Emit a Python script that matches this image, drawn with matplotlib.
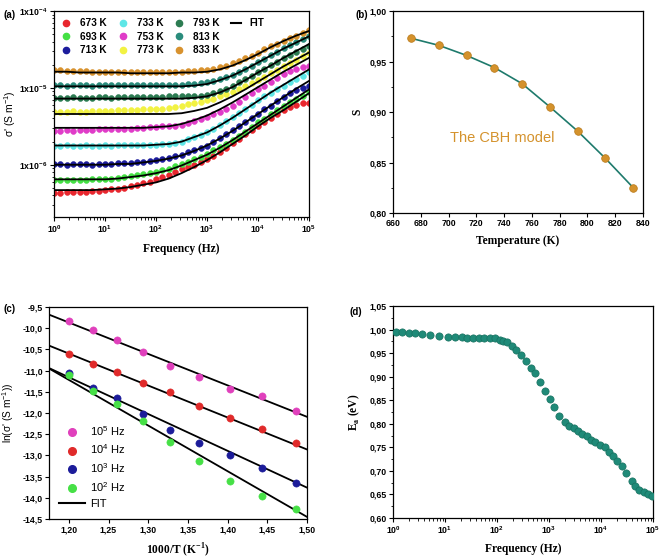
import matplotlib
matplotlib.use('Agg')
import matplotlib.pyplot as plt
import numpy as np
from matplotlib.lines import Line2D
from matplotlib.ticker import FuncFormatter, AutoMinorLocator, FixedLocator, LogLocator, NullFormatter

plt.rcParams['font.family'] = ['Liberation Sans', 'DejaVu Sans']
plt.rcParams['font.weight'] = 'bold'

# ---------------- (a) sigma' vs frequency ----------------
temps = [673, 693, 713, 733, 753, 773, 793, 813, 833]
temp_colors = ['#e8262e', '#44e044', '#1c1c9c', '#5ee6e6', '#e03cc8',
               '#f2f242', '#2c7c52', '#2a8c7c', '#d8922e']

# measurement frequencies, 8 per decade, log10(Hz)
logf_pts = [k / 8 for k in range(41)]
# fit curve frequencies, 4 per decade, log10(Hz)
logf_fit = [k / 4 for k in range(21)]

# log10(sigma') markers
sig_pts = {
    673: [-6.37, -6.37, -6.36, -6.36, -6.35, -6.35, -6.34, -6.34,
          -6.33, -6.32, -6.31, -6.30, -6.28, -6.26, -6.24, -6.22,
          -6.19, -6.16, -6.13, -6.10, -6.06, -6.03, -6.00, -5.97,
          -5.93, -5.88, -5.83, -5.78, -5.72, -5.66, -5.60, -5.55,
          -5.49, -5.44, -5.39, -5.34, -5.29, -5.25, -5.22, -5.20, -5.20],
    693: [-6.20, -6.20, -6.20, -6.20, -6.20, -6.20, -6.19, -6.19,
          -6.19, -6.18, -6.17, -6.16, -6.15, -6.14, -6.12, -6.11,
          -6.09, -6.07, -6.05, -6.02, -5.99, -5.96, -5.93, -5.90,
          -5.86, -5.81, -5.77, -5.73, -5.68, -5.62, -5.57, -5.51,
          -5.45, -5.40, -5.34, -5.29, -5.23, -5.18, -5.14, -5.10, -5.06],
    713: [-5.99, -5.99, -6.00, -5.99, -5.99, -5.99, -6.00, -5.99,
          -5.99, -5.99, -5.98, -5.98, -5.98, -5.97, -5.96, -5.95,
          -5.94, -5.93, -5.91, -5.89, -5.87, -5.84, -5.81, -5.78,
          -5.75, -5.70, -5.65, -5.60, -5.55, -5.50, -5.44, -5.39,
          -5.34, -5.28, -5.23, -5.17, -5.12, -5.07, -5.03, -5.00, -4.97],
    733: [-5.75, -5.75, -5.74, -5.75, -5.75, -5.74, -5.75, -5.75,
          -5.74, -5.75, -5.74, -5.74, -5.74, -5.74, -5.74, -5.74,
          -5.74, -5.73, -5.73, -5.72, -5.70, -5.67, -5.64, -5.61,
          -5.58, -5.53, -5.48, -5.43, -5.38, -5.33, -5.27, -5.22,
          -5.16, -5.11, -5.07, -5.02, -4.97, -4.92, -4.88, -4.84, -4.80],
    753: [-5.56, -5.56, -5.55, -5.56, -5.55, -5.55, -5.55, -5.54,
          -5.54, -5.54, -5.53, -5.53, -5.53, -5.52, -5.52, -5.51,
          -5.51, -5.50, -5.50, -5.49, -5.48, -5.46, -5.43, -5.41,
          -5.38, -5.34, -5.31, -5.27, -5.23, -5.18, -5.12, -5.07,
          -5.02, -4.97, -4.92, -4.87, -4.82, -4.78, -4.75, -4.73, -4.71],
    773: [-5.31, -5.31, -5.31, -5.30, -5.31, -5.31, -5.30, -5.30,
          -5.30, -5.30, -5.29, -5.29, -5.29, -5.29, -5.28, -5.28,
          -5.28, -5.27, -5.26, -5.25, -5.23, -5.21, -5.20, -5.18,
          -5.16, -5.14, -5.11, -5.08, -5.05, -5.01, -4.98, -4.94,
          -4.90, -4.86, -4.81, -4.77, -4.72, -4.68, -4.64, -4.59, -4.55],
    793: [-5.13, -5.13, -5.13, -5.12, -5.13, -5.13, -5.13, -5.12,
          -5.12, -5.13, -5.12, -5.12, -5.12, -5.12, -5.12, -5.12,
          -5.12, -5.12, -5.11, -5.11, -5.11, -5.11, -5.10, -5.10,
          -5.09, -5.07, -5.04, -5.01, -4.97, -4.93, -4.88, -4.84,
          -4.79, -4.75, -4.70, -4.66, -4.61, -4.57, -4.53, -4.49, -4.45],
    813: [-4.96, -4.96, -4.97, -4.96, -4.96, -4.96, -4.97, -4.96,
          -4.96, -4.96, -4.96, -4.96, -4.96, -4.96, -4.96, -4.96,
          -4.96, -4.96, -4.96, -4.96, -4.96, -4.95, -4.95, -4.94,
          -4.93, -4.91, -4.89, -4.86, -4.83, -4.79, -4.75, -4.71,
          -4.66, -4.62, -4.57, -4.53, -4.48, -4.44, -4.40, -4.36, -4.32],
    833: [-4.77, -4.77, -4.78, -4.78, -4.78, -4.78, -4.79, -4.79,
          -4.79, -4.79, -4.79, -4.79, -4.79, -4.79, -4.79, -4.79,
          -4.79, -4.79, -4.79, -4.79, -4.79, -4.78, -4.78, -4.77,
          -4.77, -4.75, -4.73, -4.71, -4.68, -4.65, -4.61, -4.58,
          -4.54, -4.50, -4.46, -4.43, -4.39, -4.35, -4.32, -4.28, -4.25],
}

# log10(sigma') of the FIT curves
sig_fit = {
    673: [-6.33, -6.33, -6.33, -6.33, -6.32, -6.31, -6.29, -6.26, -6.23, -6.18, -6.11,
          -6.03, -5.94, -5.84, -5.73, -5.62, -5.50, -5.39, -5.29, -5.18, -5.07],
    693: [-6.19, -6.19, -6.19, -6.19, -6.19, -6.18, -6.16, -6.14, -6.11, -6.07, -6.01,
          -5.94, -5.87, -5.78, -5.68, -5.57, -5.46, -5.35, -5.24, -5.13, -5.02],
    713: [-6.00, -6.00, -6.00, -6.00, -6.00, -5.99, -5.99, -5.97, -5.95, -5.92, -5.88,
          -5.82, -5.75, -5.66, -5.56, -5.45, -5.34, -5.23, -5.12, -5.01, -4.91],
    733: [-5.75, -5.75, -5.75, -5.75, -5.75, -5.75, -5.75, -5.75, -5.74, -5.73, -5.70,
          -5.64, -5.58, -5.49, -5.39, -5.28, -5.17, -5.06, -4.96, -4.86, -4.76],
    753: [-5.52, -5.52, -5.52, -5.52, -5.52, -5.52, -5.52, -5.52, -5.51, -5.50, -5.47,
          -5.42, -5.36, -5.28, -5.19, -5.09, -4.99, -4.89, -4.79, -4.70, -4.61],
    773: [-5.34, -5.34, -5.34, -5.34, -5.34, -5.34, -5.34, -5.34, -5.34, -5.34, -5.33,
          -5.30, -5.26, -5.19, -5.11, -5.02, -4.92, -4.82, -4.72, -4.63, -4.54],
    793: [-5.14, -5.14, -5.14, -5.14, -5.14, -5.14, -5.14, -5.14, -5.14, -5.14, -5.14,
          -5.13, -5.11, -5.06, -4.99, -4.90, -4.80, -4.71, -4.61, -4.52, -4.43],
    813: [-4.98, -4.98, -4.98, -4.98, -4.98, -4.98, -4.98, -4.98, -4.98, -4.98, -4.98,
          -4.97, -4.95, -4.90, -4.84, -4.76, -4.67, -4.58, -4.49, -4.41, -4.33],
    833: [-4.79, -4.79, -4.80, -4.80, -4.80, -4.80, -4.81, -4.81, -4.81, -4.81, -4.80,
          -4.80, -4.79, -4.76, -4.71, -4.64, -4.56, -4.47, -4.39, -4.32, -4.26],
}

# ---------------- (b) exponent s vs T ----------------
s_values = [0.973, 0.966, 0.956, 0.944, 0.928, 0.905, 0.881, 0.854, 0.825]

# ---------------- (c) ln(sigma') vs 1000/T ----------------
freq_labels = ['10$^{\\mathregular{5}}$ Hz', '10$^{\\mathregular{4}}$ Hz',
               '10$^{\\mathregular{3}}$ Hz', '10$^{\\mathregular{2}}$ Hz']
freq_colors = ['#e040bc', '#e02a2a', '#1c1c9a', '#46e046']
# values ordered by temperature 833 K -> 673 K (increasing 1000/T)
ln_sig = [
    [-9.84, -10.05, -10.29, -10.55, -10.89, -11.16, -11.44, -11.60, -11.95],
    [-10.62, -10.84, -11.04, -11.29, -11.51, -11.83, -12.12, -12.37, -12.70],
    [-11.05, -11.40, -11.65, -12.02, -12.40, -12.71, -13.00, -13.29, -13.64],
    [-11.10, -11.47, -11.79, -12.18, -12.68, -13.14, -13.61, -13.95, -14.26],
]
fit_x = [1.175, 1.50]
fit_lines = [[-9.68, -12.09], [-10.41, -12.86], [-10.94, -13.76], [-10.95, -14.45]]

# ---------------- (d) activation energy vs frequency ----------------
logf_ea = [0.05, 0.17, 0.30, 0.42, 0.56, 0.71, 0.88, 1.05, 1.20, 1.33, 1.43, 1.54,
           1.65, 1.75, 1.86, 1.96, 2.06, 2.11, 2.20, 2.29, 2.36, 2.46, 2.56, 2.66,
           2.74, 2.83, 2.92, 3.01, 3.10, 3.20, 3.30, 3.39, 3.48, 3.56, 3.64, 3.73,
           3.81, 3.89, 3.98, 4.07, 4.15, 4.24, 4.31, 4.40, 4.49, 4.59, 4.66, 4.74,
           4.83, 4.91, 4.98]
ea_values = [0.994, 0.994, 0.993, 0.993, 0.991, 0.988, 0.986, 0.985, 0.985, 0.985,
             0.983, 0.983, 0.983, 0.983, 0.982, 0.982, 0.978, 0.976, 0.973, 0.965,
             0.957, 0.945, 0.933, 0.919, 0.907, 0.889, 0.870, 0.853, 0.836, 0.817,
             0.804, 0.796, 0.792, 0.785, 0.778, 0.773, 0.766, 0.761, 0.754, 0.750,
             0.741, 0.732, 0.722, 0.711, 0.695, 0.678, 0.667, 0.659, 0.655, 0.652,
             0.647]

W, H = 661, 559
fig = plt.figure(figsize=(W / 100, H / 100), dpi=100)


def px_axes(l, t, r, b):
    return fig.add_axes([l / W, 1 - b / H, (r - l) / W, (b - t) / H])


def comma(fmt):
    return FuncFormatter(lambda v, p: format(v, fmt).replace('.', ','))


serif = ['Liberation Serif', 'DejaVu Serif']
tick_fs = 6.3
lab_fs = 8.3


def style(ax):
    ax.tick_params(which='both', direction='out', labelsize=tick_fs, top=False, right=False, pad=1.5)
    ax.tick_params(which='major', length=3, width=0.8)
    ax.tick_params(which='minor', length=1.8, width=0.6)
    for s in ax.spines.values():
        s.set_linewidth(0.9)


# ---- (a)
ax1 = px_axes(54, 11, 309, 217)
handles = []
for t, c in zip(temps, temp_colors):
    ax1.plot(10 ** np.array(logf_pts), 10 ** np.array(sig_pts[t]), 'o', ms=4.2,
             mfc=c, mec=c, mew=0.4, zorder=2)
    handles.append(Line2D([], [], marker='o', ls='none', ms=4.5, mfc=c, mec=c, label=f'{t} K'))
for t in temps:
    ax1.plot(10 ** np.array(logf_fit), 10 ** np.array(sig_fit[t]), '-', color='black',
             lw=1.3, zorder=3)
handles.append(Line2D([], [], color='black', lw=1.5, label='FIT'))
handles += [Line2D([], [], ls='none', label=' '), Line2D([], [], ls='none', label=' ')]
ax1.set_xscale('log')
ax1.set_yscale('log')
ax1.set_xlim(1, 1e5)
ax1.set_ylim(10 ** -6.68, 1e-4)
ax1.yaxis.set_major_locator(FixedLocator([1e-6, 1e-5, 1e-4]))
ax1.yaxis.set_major_formatter(FuncFormatter(
    lambda v, p: '1x10$^{\\mathregular{%d}}$' % round(np.log10(v))))
ax1.yaxis.set_minor_locator(LogLocator(base=10, subs=np.arange(2, 10)))
ax1.yaxis.set_minor_formatter(NullFormatter())
style(ax1)
ax1.set_xlabel('Frequency (Hz)', family=serif, fontsize=lab_fs, fontweight='bold')
ax1.set_ylabel("σ' (S m$^{\\mathregular{-1}}$)", fontsize=7.5)
ax1.xaxis.set_label_coords(0.5, -0.126)
ax1.yaxis.set_label_coords(-0.141, 0.5)
ax1.legend(handles=handles, ncol=4, loc='upper left', frameon=False, fontsize=7.2,
           handlelength=1.0, handletextpad=0.9, columnspacing=1.1, labelspacing=0.35,
           borderaxespad=0.3, bbox_to_anchor=(0.0, 1.0))

# ---- (b)
ax2 = px_axes(393, 11, 643, 213)
ax2.plot(temps, s_values, '-', color='#1e7a6c', lw=1.2, zorder=2)
ax2.plot(temps, s_values, 'o', ms=5.5, mfc='#d4922c', mec='#b87818', mew=0.5, zorder=3)
ax2.set_xlim(660, 840)
ax2.set_ylim(0.80, 1.00)
ax2.set_xticks(np.arange(660, 841, 20))
ax2.set_yticks([0.80, 0.85, 0.90, 0.95, 1.00])
ax2.yaxis.set_major_formatter(comma('.2f'))
ax2.yaxis.set_minor_locator(AutoMinorLocator(2))
style(ax2)
ax2.set_xlabel('Temperature (K)', family=serif, fontsize=lab_fs, fontweight='bold')
ax2.set_ylabel('S', family=serif, fontsize=lab_fs, fontweight='bold')
ax2.xaxis.set_label_coords(0.5, -0.109)
ax2.yaxis.set_label_coords(-0.12, 0.5)
ax2.text(701, 0.874, 'The CBH model', color='#d4922c', fontsize=10.5,
         fontweight='normal', va='center', ha='left')

# ---- (c)
ax3 = px_axes(49, 307, 307, 519)
inv_T = [1000 / t for t in temps[::-1]]
for lab, c, ys, fy in zip(freq_labels, freq_colors, ln_sig, fit_lines):
    ax3.plot(fit_x, fy, '-', color='black', lw=1.3, zorder=2)
    ax3.plot(inv_T, ys, 'o', ms=5.2, mfc=c, mec=c, mew=0.4, zorder=3, label=lab)
leg_h = [Line2D([], [], marker='o', ls='none', ms=5.5, mfc=c, mec=c, label=l)
         for l, c in zip(freq_labels, freq_colors)]
leg_h.append(Line2D([], [], color='black', lw=1.5, label='FIT'))
ax3.legend(handles=leg_h, loc='lower left', frameon=False, prop={'size': 8, 'weight': 'normal'},
           handlelength=2.3, handletextpad=0.5, labelspacing=0.45, borderaxespad=0.5)
ax3.set_xlim(1.175, 1.50)
ax3.set_ylim(-14.5, -9.5)
ax3.set_xticks([1.20, 1.25, 1.30, 1.35, 1.40, 1.45, 1.50])
ax3.set_yticks(np.arange(-14.5, -9.49, 0.5))
ax3.xaxis.set_major_formatter(comma('.2f'))
ax3.yaxis.set_major_formatter(comma('.1f'))
style(ax3)
ax3.set_xlabel('1000/T (K$^{\\mathregular{-1}}$)', family=serif, fontsize=lab_fs,
               fontweight='bold')
ax3.set_ylabel("ln(σ' (S m$^{\\mathregular{-1}}$))", fontsize=7.3, fontweight='normal')
ax3.xaxis.set_label_coords(0.5, -0.105)
ax3.yaxis.set_label_coords(-0.128, 0.5)

# ---- (d)
ax4 = px_axes(393, 306, 653, 518)
ax4.plot(10 ** np.array(logf_ea), ea_values, 'o', ms=5.2, mfc='#1f8a78', mec='#17705f',
         mew=0.5, zorder=3)
ax4.set_xscale('log')
ax4.set_xlim(1, 1e5)
ax4.set_ylim(0.60, 1.05)
ax4.set_yticks(np.arange(0.60, 1.051, 0.05))
ax4.yaxis.set_major_formatter(comma('.2f'))
ax4.yaxis.set_minor_locator(AutoMinorLocator(2))
style(ax4)
ax4.set_xlabel('Frequency (Hz)', family=serif, fontsize=lab_fs, fontweight='bold')
ax4.set_ylabel('E$_{\\mathregular{a}}$ (eV)', family=serif, fontsize=lab_fs,
               fontweight='bold')
ax4.xaxis.set_label_coords(0.5, -0.118)
ax4.yaxis.set_label_coords(-0.119, 0.5)

for lbl, x, y in [('(a)', 3, 15), ('(b)', 355, 15), ('(c)', 3, 309), ('(d)', 350, 312)]:
    fig.text(x / W, 1 - y / H, lbl, fontsize=7, fontweight='bold', va='center', ha='left')

fig.savefig('out.png', dpi=100)
